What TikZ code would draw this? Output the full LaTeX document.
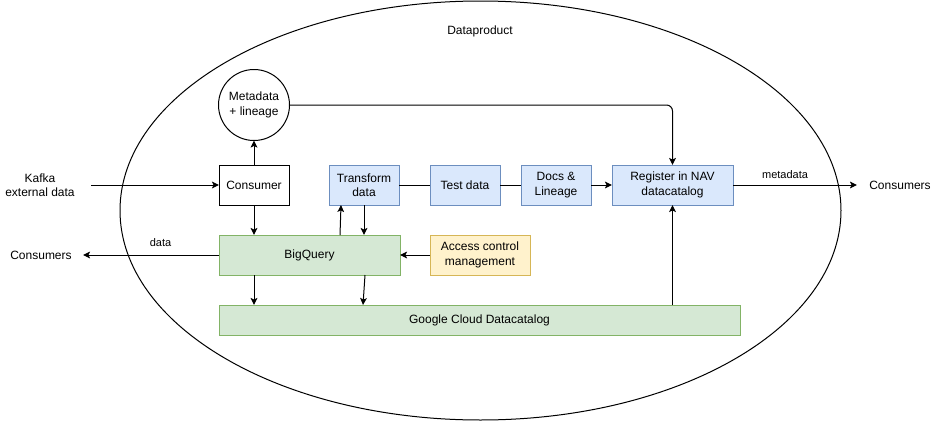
\documentclass[tikz,border=0pt]{standalone}
\usepackage{fontspec}
\setmainfont{Liberation Sans}
\usetikzlibrary{arrows.meta,calc}
\definecolor{bluefill}{HTML}{DAE8FC}
\definecolor{bluedraw}{HTML}{6C8EBF}
\definecolor{greenfill}{HTML}{D5E8D4}
\definecolor{greendraw}{HTML}{82B366}
\definecolor{yellowfill}{HTML}{FFF2CC}
\definecolor{yellowdraw}{HTML}{D6B656}
\tikzset{
  base/.style={font=\fontsize{9}{10.8}\selectfont, align=center, outer sep=0pt, inner sep=0pt, line width=0.75pt},
  plainbox/.style={base, draw=black, fill=white, minimum width=52.5pt, minimum height=30pt},
  bluebox/.style={base, draw=bluedraw, fill=bluefill, minimum width=52.5pt, minimum height=30pt},
  greenbox/.style={base, draw=greendraw, fill=greenfill, minimum height=30pt},
  yellowbox/.style={base, draw=yellowdraw, fill=yellowfill, minimum width=75pt, minimum height=30pt},
  roundnode/.style={base, draw=black, fill=white, circle, minimum size=53.25pt},
  txt/.style={base},
  smalltxt/.style={font=\fontsize{8.25}{9.9}\selectfont, inner sep=0pt},
  arr/.style={line width=0.75pt, -{Stealth[length=5.25pt,width=5pt,inset=1.2pt]}},
  ln/.style={line width=0.75pt},
}
\begin{document}
\begin{tikzpicture}[x=0.75pt,y=-0.75pt]
\useasboundingbox (0,0) rectangle (932,421);
\draw[ln] (480.5,210.5) ellipse [x radius=270.375pt, y radius=157.125pt];
\node[txt] (title) at (480,31) {Dataproduct};

\node[roundnode] (meta) at (254,105) {Metadata\\+ lineage};
\node[plainbox] (cons) at (254,185) {Consumer};
\node[bluebox] (tr) at (364,185) {Transform\\data};
\node[bluebox] (test) at (465,185) {Test data};
\node[bluebox] (docs) at (556,185) {Docs \&\\Lineage};
\node[bluebox, minimum width=90.75pt] (reg) at (672.5,185) {Register in NAV\\datacatalog};
\node[greenbox, minimum width=135.75pt] (bq) at (309.5,255) {BigQuery};
\node[yellowbox] (acm) at (480,255) {Access control\\management};
\node[greenbox, minimum width=390.75pt, minimum height=22.5pt] (gcd) at (479.5,320) {Google Cloud Datacatalog};

\node[txt, minimum width=76.5pt] (kafka) at (40,185) {Kafka\\external data};
\node[txt, minimum width=63pt] (consL) at (41,255) {Consumers};
\node[txt, minimum width=64.5pt] (consR) at (900,185) {Consumers};

\draw[arr] (kafka.east) -- (cons.west);
\draw[arr] (cons.north) -- (meta.south);
\draw[arr] (cons.south) -- (bq.north -| cons.south);
\draw[arr, rounded corners=4.5pt] (meta.east) -| (reg.north);
\draw[arr] ($(bq.north west)+(121,0)$) -- ($(tr.south west)+(12,0)$);
\draw[arr] (tr.south) -- (bq.north -| tr.south);
\draw[arr] (bq.south -| cons.south) -- (gcd.north -| cons.south);
\draw[arr] ($(bq.south west)+(146,0)$) -- ($(gcd.north west)+(144,0)$);
\draw[arr] (acm.west) -- (bq.east);
\draw[arr] (bq.west) -- node[smalltxt, pos=0.43, above=6pt] (datalbl) {data} (consL.east);
\draw[ln] (tr.east) -- (test.west);
\draw[ln] (test.east) -- (docs.west);
\draw[arr] (docs.east) -- (reg.west);
\draw[arr] (gcd.north -| reg.south) -- (reg.south);
\draw[arr] (reg.east) -- node[smalltxt, pos=0.42, above=4.5pt] (metalbl) {metadata} (consR.west);
\end{tikzpicture}
\end{document}
